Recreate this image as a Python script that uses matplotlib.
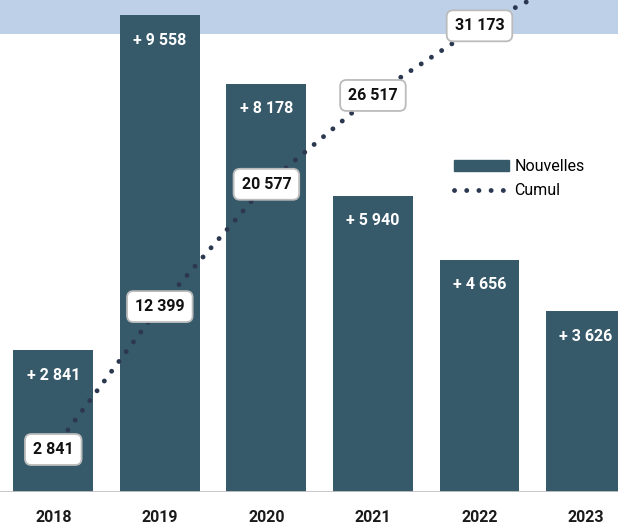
import matplotlib
matplotlib.use("Agg")
import matplotlib.pyplot as plt
from matplotlib.lines import Line2D
from matplotlib.patches import Patch

plt.rcParams['font.family'] = ['Roboto', 'DejaVu Sans']

years = ["2018", "2019", "2020", "2021", "2022", "2023"]
nouvelles = [2841, 9558, 8178, 5940, 4656, 3626]
cumul = [2841, 12399, 20577, 26517, 31173, 34799]

def fmt(v):
    return f"{v:,}".replace(",", " ")

bar_color = "#375a6b"
line_color = "#2b3850"
band_color = "#bdd0e8"

fig = plt.figure(figsize=(6.18, 5.25), dpi=100)
ax = fig.add_axes([0, 33/525, 1, 492/525])
x = list(range(len(years)))

ax.axhspan(9860*458/492, 9860, color=band_color, zorder=0, lw=0)
bars = ax.bar(x, nouvelles, width=0.75, color=bar_color, zorder=2)
ax.set_xlim(-0.5, 5.3)
ax.set_ylim(0, 9860)
ax.axhline(0, color="#c4c4c4", lw=1.3, zorder=3)
for xi, v in zip(x, nouvelles):
    ax.annotate("+ " + fmt(v), (xi, v), xytext=(0, -18), textcoords="offset points",
                ha="center", va="center", color="white", fontsize=11.5, fontweight="bold", zorder=4)
ax.set_xticks(x)
ax.set_xticklabels(years, fontsize=11.5, fontweight="bold", color="#1a1a1a")
ax.tick_params(axis="x", length=0, pad=13)
ax.set_yticks([])
for s in ax.spines.values():
    s.set_visible(False)

ax2 = ax.twinx()
ax2.set_ylim(0, 32900)
ax2.plot(x, cumul, color=line_color, lw=3.5, linestyle=(0, (0.01, 2.5)),
         dash_capstyle="round", solid_capstyle="round", zorder=5, clip_on=True)
for xi, v in zip(x[:5], cumul[:5]):
    ax2.text(xi, v, fmt(v), ha="center", va="center", fontsize=11.5, fontweight="bold",
             color="#111111", zorder=6,
             bbox=dict(boxstyle="round,pad=0.5,rounding_size=0.4", fc="white", ec="#bbbbbb", lw=1.3))
ax2.set_yticks([])
for s in ax2.spines.values():
    s.set_visible(False)

handles = [Patch(color=bar_color),
           Line2D([0], [0], color=line_color, lw=3.5, linestyle=(0, (0.01, 2.5)), dash_capstyle="round")]
ax2.legend(handles, ["Nouvelles", "Cumul"], loc="upper left", bbox_to_anchor=(440/618, 1 - 145/525),
           bbox_transform=fig.transFigure, frameon=False, fontsize=11.5, handlelength=3.4,
           handletextpad=0.35, labelspacing=0.55)

fig.savefig("out.png", dpi=100)
